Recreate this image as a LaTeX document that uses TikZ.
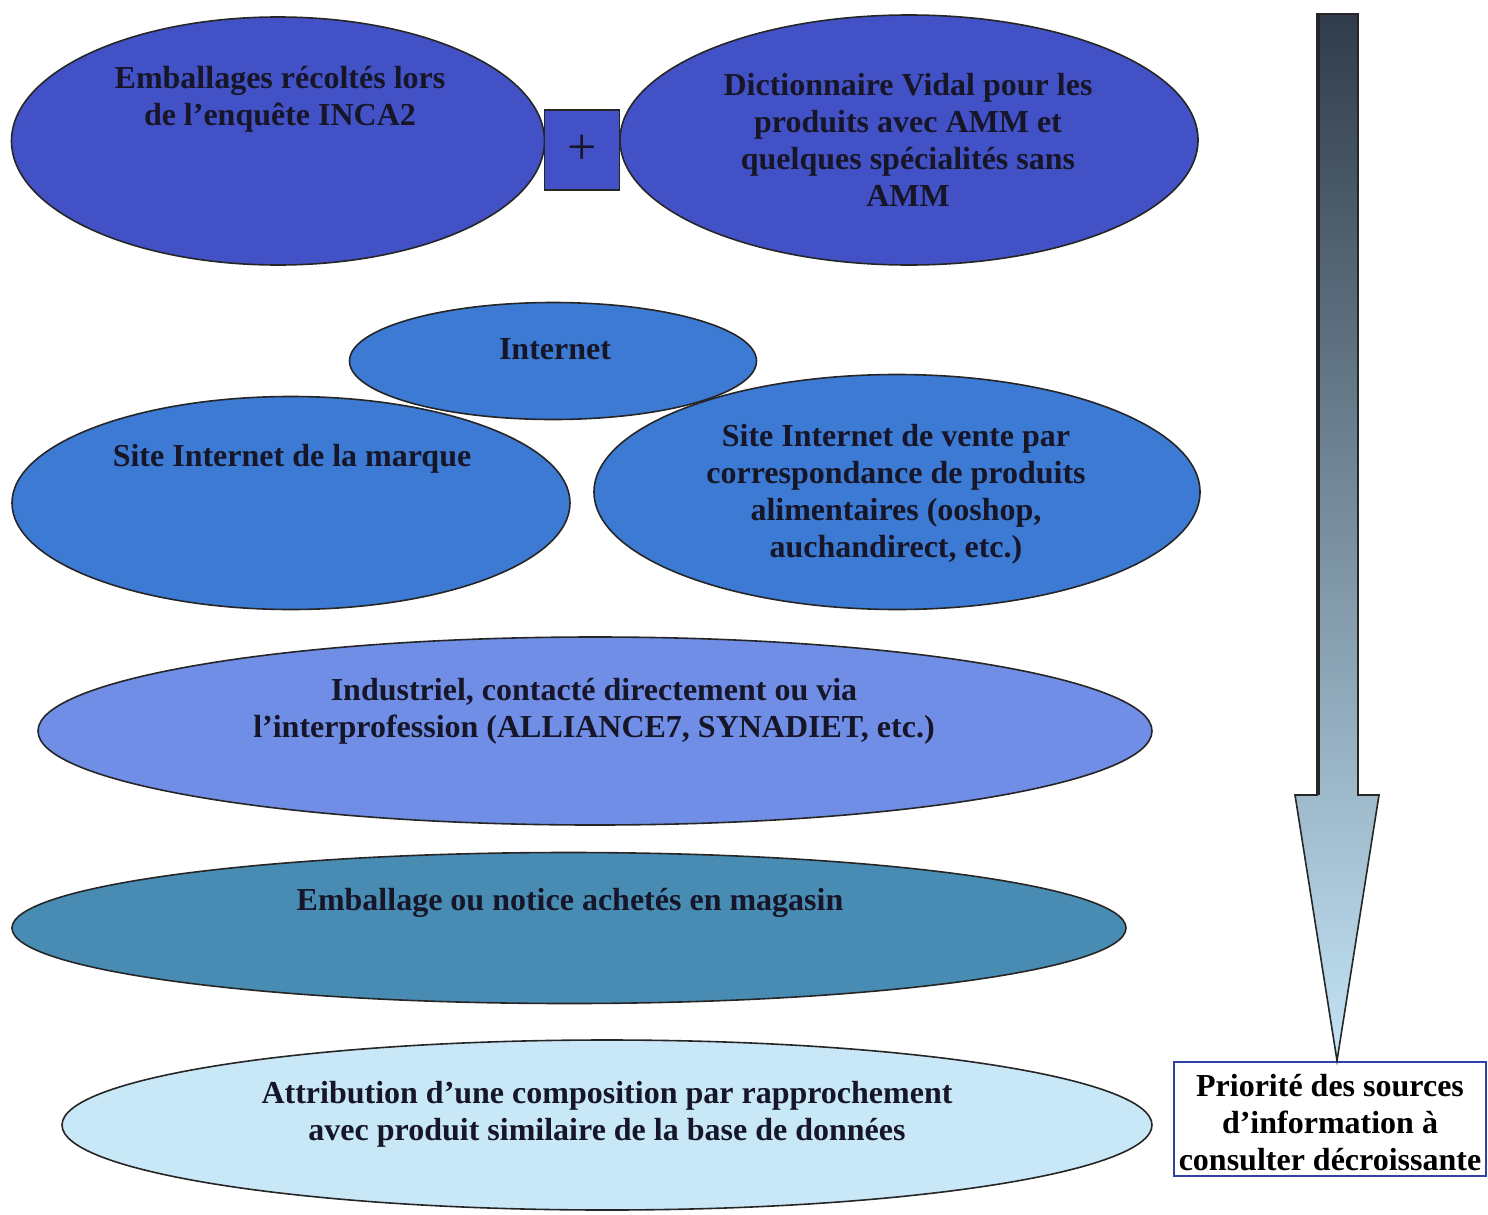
\documentclass[tikz,border=0pt]{standalone}
\usepackage{fontspec}
\setmainfont{Liberation Serif}
\usetikzlibrary{shapes.geometric}
\definecolor{cTop}{RGB}{66,82,198}
\definecolor{cNet}{RGB}{60,122,212}
\definecolor{cInd}{RGB}{112,142,230}
\definecolor{cEmb}{RGB}{72,140,180}
\definecolor{cAtt}{RGB}{200,232,248}
\definecolor{cTxt}{RGB}{22,22,40}
\definecolor{cArrTop}{RGB}{48,60,75}
\definecolor{cArrBot}{RGB}{195,228,246}
\definecolor{cBox}{RGB}{50,64,170}
\begin{document}
\begin{tikzpicture}[x=0.5pt,y=-0.5pt,
  ell/.style={ellipse, draw=black!85, line width=0.8pt, inner sep=0pt, outer sep=0pt},
  txt/.style={align=center, text=cTxt, font=\fontsize{16}{18.5}\selectfont\bfseries, inner sep=0pt},
  plusbox/.style={rectangle, draw=black!85, line width=0.8pt, fill=cTop, minimum width=37.5pt, minimum height=40pt, inner sep=0pt, font=\fontsize{26}{26}\selectfont, text=cTxt},
  prio/.style={rectangle, draw=cBox, line width=1.4pt, fill=white, minimum width=156pt, minimum height=57pt, inner sep=0pt},
  priotxt/.style={align=center, inner sep=0pt, font=\fontsize{16}{18.5}\selectfont\bfseries, text=black}
]
\useasboundingbox (0,0) rectangle (1488,1215);

% top row
\node[ell, fill=cTop, minimum width=266.5pt, minimum height=124pt] (emb) at (278,141) {};
\node[ell, fill=cTop, minimum width=289pt, minimum height=125pt] (vid) at (909,140) {};
\node[plusbox] (plus) at (582,150) {+};
\node[txt] (embt) at (280,99) {Emballages récoltés lors\\de l’enquête INCA2};
\node[txt] (vidt) at (908,140) {Dictionnaire Vidal pour les\\produits avec AMM et\\quelques spécialités sans\\AMM};

% internet group
\node[ell, fill=cNet, minimum width=279pt, minimum height=106.5pt] (marque) at (291,503) {};
\node[ell, fill=cNet, minimum width=303pt, minimum height=117.5pt] (vente) at (897,492) {};
\node[ell, fill=cNet, minimum width=203.5pt, minimum height=58.5pt] (net) at (553,361) {};
\node[txt] (nett) at (555,349) {Internet};
\node[txt] (marquet) at (292,459) {Site Internet de la marque};
\node[txt] (ventet) at (896,494) {Site Internet de vente par\\correspondance de produits\\alimentaires (ooshop,\\auchandirect, etc.)};

% industriel
\node[ell, fill=cInd, minimum width=557pt, minimum height=94pt] (ind) at (595,731) {};
\node[txt] (indt) at (594,711) {Industriel, contacté directement ou via\\l’interprofession (ALLIANCE7, SYNADIET, etc.)};

% emballage magasin
\node[ell, fill=cEmb, minimum width=557pt, minimum height=75.5pt] (mag) at (569,928) {};
\node[txt] (magt) at (570,903) {Emballage ou notice achetés en magasin};

% attribution
\node[ell, fill=cAtt, minimum width=545pt, minimum height=85pt] (att) at (607,1125) {};
\node[txt] (attt) at (607,1114) {Attribution d’une composition par rapprochement\\avec produit similaire de la base de données};

% priority box
\node[prio] (prio) at (1330,1119) {};
\node[priotxt] (priot) at (1330,1123) {Priorité des sources\\d’information à\\consulter décroissante};

% arrow
\path[draw=black!85, line width=0.8pt, top color=cArrTop, bottom color=cArrBot]
  (1317,14) -- (1358,14) -- (1358,795) -- (1379,795) -- (prio.north -| 1337,0) -- (1295,795) -- (1317,795) -- cycle;
\draw[black!85, line width=1.6pt] (1318,14) -- (1318,795);
\end{tikzpicture}
\end{document}
